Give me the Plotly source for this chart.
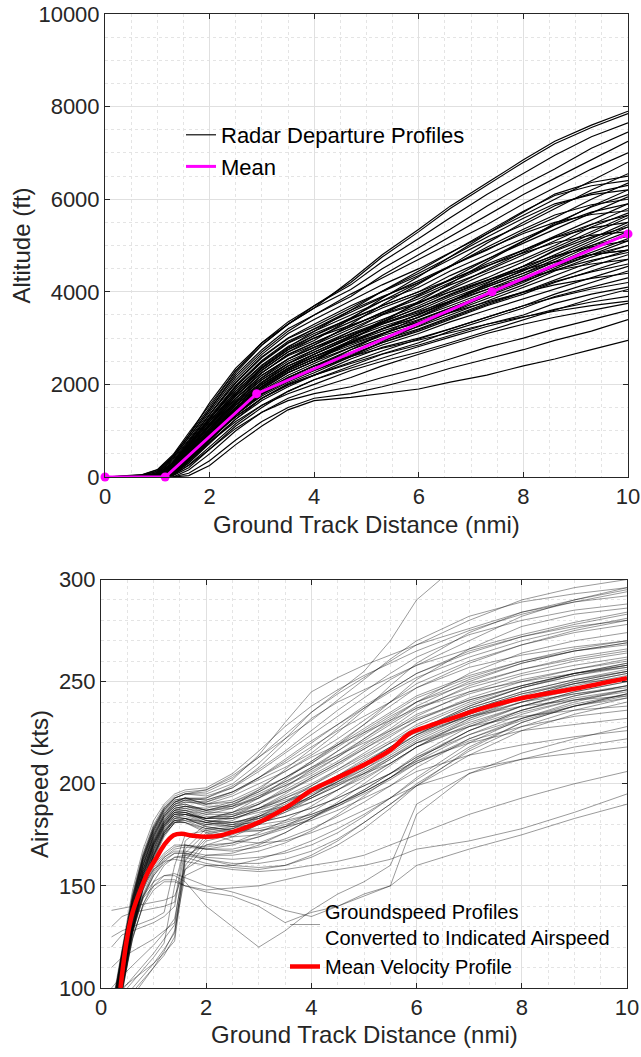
import plotly.graph_objects as go

W, H = 641, 1057
FONT = "Liberation Sans, Arial, Helvetica, sans-serif"
AXC = "#262626"

# ---------------- Top panel: radar departure altitude profiles ----------------
alt_x = [0, 0.7, 1.0, 1.3, 1.6, 2.0, 2.5, 3.0, 3.5, 4.0, 4.7, 5.3, 6.0, 6.6, 7.3, 8.0, 8.6, 9.3, 10.0]
alt_profiles = [
    [0, 0, 0, 0, 30, 250, 700, 1100, 1450, 1650, 1720, 1800, 1900, 2050, 2200, 2400, 2550, 2750, 2950],
    [0, 0, 0, 0, 80, 350, 800, 1200, 1500, 1700, 1800, 1950, 2150, 2350, 2550, 2750, 2950, 3150, 3400],
    [0, 0, 0, 50, 250, 600, 1050, 1400, 1650, 1800, 1950, 2150, 2350, 2550, 2800, 3000, 3200, 3400, 3600],
    [0, 0, 0, 0, 150, 500, 1000, 1400, 1700, 1900, 2150, 2400, 2650, 2850, 3100, 3300, 3450, 3600, 3750],
    [0, 0, 0, 80, 350, 750, 1200, 1550, 1800, 2000, 2300, 2500, 2700, 2900, 3150, 3400, 3600, 3850, 4050],
    [0, 0, 0, 30, 200, 600, 1100, 1500, 1850, 2100, 2400, 2650, 2850, 3050, 3300, 3500, 3750, 3950, 4100],
    [0, 0, 20, 150, 450, 850, 1300, 1700, 2000, 2200, 2450, 2650, 2900, 3150, 3400, 3650, 3900, 4100, 4300],
    [0, 0, 0, 60, 300, 750, 1250, 1650, 1950, 2200, 2550, 2800, 3000, 3200, 3450, 3700, 3950, 4200, 4450],
    [0, 0, 0, 100, 400, 850, 1350, 1750, 2050, 2300, 2600, 2850, 3100, 3350, 3600, 3850, 4050, 4300, 4550],
    [0, 0, 10, 120, 450, 900, 1400, 1800, 2100, 2350, 2650, 2900, 3150, 3400, 3700, 3950, 4200, 4450, 4700],
    [0, 0, 0, 80, 380, 850, 1400, 1850, 2150, 2400, 2700, 2950, 3200, 3450, 3750, 4000, 4250, 4550, 4800],
    [0, 0, 0, 50, 350, 800, 1350, 1800, 2150, 2400, 2750, 3000, 3250, 3500, 3800, 4100, 4350, 4650, 4900],
    [0, 0, 30, 180, 500, 950, 1450, 1900, 2250, 2500, 2800, 3050, 3300, 3550, 3850, 4150, 4450, 4750, 5000],
    [0, 0, 0, 100, 450, 950, 1500, 1950, 2300, 2550, 2850, 3100, 3350, 3600, 3900, 4200, 4500, 4800, 5100],
    [0, 0, 0, 90, 420, 900, 1450, 1900, 2250, 2500, 2900, 3150, 3400, 3650, 3950, 4250, 4550, 4850, 5150],
    [0, 0, 20, 160, 520, 1000, 1550, 2000, 2350, 2600, 2950, 3200, 3450, 3700, 4000, 4300, 4600, 4950, 5250],
    [0, 0, 0, 120, 480, 980, 1500, 1950, 2300, 2550, 2900, 3200, 3450, 3750, 4050, 4350, 4650, 5000, 5300],
    [0, 0, 0, 70, 400, 900, 1500, 2000, 2350, 2650, 3000, 3250, 3500, 3800, 4100, 4400, 4700, 5050, 5400],
    [0, 0, 40, 200, 550, 1050, 1600, 2050, 2400, 2650, 3000, 3300, 3550, 3850, 4150, 4450, 4750, 5100, 5450],
    [0, 0, 0, 110, 470, 1000, 1600, 2050, 2450, 2700, 3050, 3300, 3600, 3900, 4200, 4500, 4800, 5150, 5500],
    [0, 0, 10, 150, 500, 1050, 1650, 2100, 2450, 2750, 3100, 3350, 3650, 3950, 4250, 4550, 4900, 5250, 5600],
    [0, 0, 0, 130, 500, 1050, 1700, 2150, 2550, 2800, 3150, 3400, 3700, 4000, 4300, 4650, 4950, 5300, 5650],
    [0, 0, 30, 220, 600, 1100, 1700, 2200, 2550, 2850, 3200, 3500, 3750, 4050, 4400, 4700, 5000, 5400, 5700],
    [0, 0, 0, 140, 550, 1100, 1750, 2250, 2650, 2900, 3250, 3550, 3850, 4150, 4450, 4800, 5100, 5450, 5800],
    [0, 0, 50, 250, 650, 1200, 1800, 2300, 2700, 3000, 3350, 3650, 3950, 4250, 4600, 4900, 5200, 5550, 5900],
    [0, 0, 20, 200, 600, 1150, 1800, 2350, 2750, 3050, 3400, 3700, 4000, 4350, 4700, 5050, 5350, 5700, 6050],
    [0, 0, 60, 300, 700, 1250, 1900, 2400, 2800, 3150, 3500, 3800, 4100, 4450, 4800, 5150, 5450, 5850, 6200],
    [0, 0, 40, 260, 680, 1250, 1950, 2500, 2900, 3200, 3600, 3900, 4200, 4550, 4900, 5300, 5600, 6000, 6350],
    [0, 20, 90, 350, 780, 1350, 2050, 2600, 3000, 3300, 3700, 4000, 4350, 4700, 5100, 5450, 5800, 6200, 6550],
    [0, 0, 70, 320, 750, 1350, 2100, 2650, 3100, 3400, 3800, 4150, 4500, 4850, 5250, 5650, 6000, 6400, 6800],
    [0, 30, 120, 420, 850, 1450, 2200, 2750, 3200, 3500, 3950, 4300, 4700, 5050, 5450, 5900, 6250, 6650, 7000],
    [0, 0, 80, 380, 800, 1400, 2150, 2700, 3150, 3500, 3900, 4350, 4800, 5200, 5650, 6100, 6450, 6850, 7250],
    [0, 40, 150, 450, 900, 1500, 2300, 2850, 3300, 3650, 4050, 4500, 4950, 5350, 5850, 6300, 6650, 7100, 7450],
    [0, 0, 100, 400, 850, 1450, 2250, 2850, 3300, 3700, 4150, 4650, 5150, 5600, 6100, 6550, 6950, 7350, 7650],
    [0, 50, 160, 480, 950, 1550, 2300, 2900, 3350, 3700, 4200, 4750, 5300, 5800, 6300, 6800, 7200, 7550, 7850],
    [0, 30, 130, 450, 900, 1600, 2350, 2900, 3300, 3650, 4250, 4800, 5350, 5850, 6350, 6850, 7250, 7600, 7900],
    [0, 0, 0, 40, 260, 650, 1150, 1550, 1850, 2100, 2350, 2580, 2820, 3020, 3250, 3450, 3620, 3780, 3900],
    [0, 0, 0, 90, 380, 820, 1350, 1800, 2150, 2400, 2600, 2780, 2960, 3120, 3300, 3460, 3580, 3700, 3800],
    [0, 0, 10, 120, 420, 820, 1300, 1700, 1980, 2200, 2480, 2720, 2980, 3200, 3450, 3700, 3880, 4060, 4200],
    [0, 0, 0, 100, 450, 950, 1550, 2000, 2350, 2600, 2880, 3100, 3350, 3550, 3780, 3990, 4150, 4290, 4400],
    [0, 0, 0, 60, 330, 780, 1330, 1780, 2080, 2300, 2620, 2900, 3180, 3430, 3720, 3990, 4220, 4430, 4600],
    [0, 0, 30, 200, 580, 1100, 1700, 2200, 2550, 2800, 3080, 3320, 3580, 3800, 4050, 4290, 4460, 4600, 4700],
    [0, 0, 0, 80, 380, 870, 1430, 1870, 2200, 2450, 2800, 3080, 3380, 3640, 3950, 4230, 4470, 4680, 4850],
    [0, 0, 40, 240, 640, 1200, 1850, 2350, 2750, 3000, 3280, 3520, 3780, 4000, 4250, 4480, 4650, 4800, 4900],
    [0, 0, 0, 50, 300, 720, 1250, 1700, 2020, 2250, 2600, 2920, 3260, 3560, 3920, 4260, 4540, 4800, 5000],
    [0, 0, 20, 160, 520, 1020, 1620, 2100, 2450, 2700, 3050, 3340, 3660, 3930, 4250, 4550, 4780, 4970, 5100],
    [0, 0, 0, 110, 450, 940, 1500, 1950, 2300, 2550, 2900, 3200, 3520, 3800, 4140, 4460, 4750, 5000, 5200],
    [0, 0, 50, 260, 680, 1250, 1900, 2420, 2820, 3100, 3420, 3700, 4000, 4260, 4560, 4840, 5060, 5220, 5300],
    [0, 0, 0, 70, 350, 800, 1350, 1800, 2120, 2350, 2750, 3090, 3460, 3780, 4180, 4550, 4880, 5180, 5400],
    [0, 0, 20, 190, 580, 1120, 1750, 2250, 2640, 2900, 3250, 3560, 3900, 4200, 4560, 4900, 5170, 5380, 5500],
    [0, 0, 10, 140, 490, 990, 1570, 2030, 2390, 2650, 3030, 3380, 3760, 4080, 4480, 4860, 5180, 5460, 5650],
    [0, 0, 60, 300, 720, 1300, 1980, 2520, 2930, 3200, 3560, 3880, 4240, 4550, 4920, 5260, 5500, 5670, 5750],
    [0, 0, 20, 170, 540, 1050, 1650, 2140, 2500, 2750, 3150, 3510, 3920, 4270, 4700, 5100, 5440, 5720, 5900],
    [0, 0, 40, 240, 650, 1200, 1850, 2370, 2780, 3050, 3440, 3800, 4190, 4540, 4960, 5350, 5660, 5880, 6000],
    [0, 0, 0, 90, 400, 900, 1470, 1930, 2260, 2500, 2950, 3350, 3790, 4180, 4650, 5090, 5480, 5830, 6100],
    [0, 0, 60, 320, 750, 1350, 2030, 2580, 2990, 3250, 3650, 4010, 4400, 4750, 5180, 5590, 5900, 6100, 6200],
    [0, 0, 30, 210, 600, 1130, 1760, 2260, 2620, 2850, 3300, 3720, 4170, 4560, 5050, 5500, 5860, 6130, 6300],
    [0, 0, 50, 280, 700, 1280, 1950, 2480, 2890, 3150, 3600, 4010, 4450, 4840, 5300, 5740, 6080, 6290, 6400],
    [0, 0, 30, 220, 620, 1160, 1800, 2310, 2700, 2950, 3420, 3860, 4330, 4750, 5250, 5720, 6110, 6360, 6500],
    [0, 0, 0, 100, 420, 920, 1500, 1960, 2330, 2600, 2920, 3200, 3520, 3790, 4110, 4400, 4640, 4800, 4900],
]
mean_alt_x = [0, 1.15, 2.9, 7.4, 10.0]
mean_alt_y = [0, 0, 1800, 4000, 5250]

# ---------------- Bottom panel: airspeed profiles ----------------
spd_x = [0.2, 0.4, 0.6, 0.8, 1.0, 1.2, 1.4, 1.6, 2.0, 2.5, 3.0, 3.5, 4.0, 4.5, 5.0, 5.5, 6.0, 7.0, 8.0, 9.0, 10.0]
spd_profiles = [
    [80, 110, 138, 158, 172, 182, 188, 189, 187, 190, 196, 203, 210, 218, 226, 234, 242, 252, 260, 266, 270],
    [70, 100, 128, 150, 165, 176, 183, 185, 183, 185, 190, 197, 204, 211, 219, 227, 236, 248, 256, 262, 266],
    [85, 115, 142, 162, 176, 185, 191, 193, 190, 192, 198, 206, 214, 222, 231, 240, 249, 260, 268, 274, 278],
    [72, 102, 130, 152, 168, 179, 186, 187, 184, 184, 188, 194, 200, 207, 214, 221, 229, 240, 248, 254, 259],
    [78, 108, 135, 155, 170, 180, 186, 186, 182, 181, 184, 189, 195, 201, 207, 214, 222, 234, 243, 250, 255],
    [82, 112, 140, 160, 174, 184, 190, 192, 191, 195, 203, 212, 221, 229, 237, 245, 252, 262, 270, 276, 281],
    [68, 98, 126, 148, 163, 174, 181, 183, 180, 179, 182, 186, 191, 197, 203, 210, 218, 229, 238, 245, 250],
    [76, 106, 133, 154, 169, 179, 185, 186, 183, 183, 187, 193, 199, 206, 213, 220, 225, 233, 240, 246, 251],
    [88, 118, 145, 165, 179, 188, 193, 195, 194, 198, 206, 215, 224, 233, 242, 251, 258, 266, 273, 279, 284],
    [74, 104, 131, 152, 167, 177, 183, 183, 179, 177, 178, 181, 185, 190, 196, 203, 212, 226, 236, 243, 248],
    [80, 110, 137, 157, 171, 180, 185, 185, 182, 181, 183, 187, 193, 199, 205, 212, 220, 230, 238, 244, 248],
    [71, 101, 129, 150, 165, 176, 182, 183, 181, 184, 190, 198, 207, 216, 225, 233, 240, 249, 256, 261, 265],
    [79, 109, 136, 157, 171, 181, 187, 188, 185, 185, 188, 192, 196, 200, 205, 210, 218, 228, 236, 242, 246],
    [84, 114, 141, 161, 175, 184, 189, 190, 187, 188, 193, 200, 208, 216, 224, 232, 240, 251, 259, 265, 269],
    [69, 99, 127, 149, 164, 175, 181, 181, 177, 174, 175, 179, 184, 190, 197, 205, 213, 226, 235, 241, 245],
    [77, 107, 134, 155, 170, 180, 186, 187, 185, 188, 194, 201, 208, 214, 220, 226, 232, 241, 248, 254, 258],
    [86, 116, 143, 163, 177, 186, 191, 192, 189, 189, 193, 199, 206, 213, 221, 229, 237, 247, 254, 260, 264],
    [73, 103, 130, 151, 166, 177, 183, 184, 181, 180, 183, 188, 194, 201, 209, 217, 226, 238, 247, 254, 259],
    [81, 111, 138, 158, 172, 181, 186, 186, 182, 180, 181, 184, 188, 193, 199, 205, 213, 224, 232, 238, 242],
    [75, 105, 132, 153, 168, 178, 184, 185, 183, 186, 193, 202, 211, 220, 229, 238, 247, 259, 268, 275, 280],
    [83, 113, 140, 160, 174, 183, 188, 189, 186, 186, 190, 196, 203, 210, 218, 226, 234, 244, 251, 256, 260],
    [70, 100, 128, 150, 165, 176, 182, 182, 178, 176, 177, 180, 184, 189, 195, 202, 210, 222, 231, 238, 243],
    [78, 108, 135, 156, 171, 181, 187, 188, 186, 189, 197, 207, 217, 227, 237, 246, 254, 264, 272, 278, 283],
    [87, 117, 144, 164, 178, 187, 192, 193, 190, 191, 196, 203, 211, 219, 227, 235, 243, 253, 260, 265, 269],
    [74, 104, 131, 152, 167, 177, 182, 181, 176, 172, 171, 172, 176, 181, 187, 193, 199, 207, 212, 215, 218],
    [79, 109, 136, 156, 170, 179, 184, 183, 179, 177, 177, 179, 182, 187, 193, 199, 206, 214, 219, 223, 226],
    [72, 102, 129, 150, 165, 175, 181, 181, 178, 178, 181, 184, 188, 193, 199, 205, 211, 220, 226, 229, 232],
    [82, 112, 139, 159, 173, 182, 187, 187, 183, 183, 186, 189, 193, 199, 206, 213, 220, 228, 233, 236, 238],
    [76, 106, 133, 154, 169, 179, 185, 186, 183, 184, 188, 193, 198, 204, 210, 217, 224, 233, 238, 241, 243],
    [84, 114, 141, 161, 175, 184, 189, 190, 187, 189, 194, 199, 205, 213, 222, 231, 240, 254, 264, 270, 274],
    [78, 108, 135, 156, 171, 181, 187, 189, 188, 191, 197, 203, 210, 219, 229, 240, 251, 266, 277, 283, 286],
    [86, 116, 143, 163, 177, 186, 191, 193, 192, 196, 202, 208, 215, 225, 236, 248, 259, 274, 284, 289, 292],
    [80, 110, 137, 158, 173, 183, 189, 191, 191, 196, 203, 211, 220, 229, 238, 246, 254, 265, 272, 277, 280],
    [83, 113, 140, 160, 174, 184, 190, 192, 193, 199, 207, 216, 226, 236, 245, 254, 262, 273, 280, 285, 288],
    [88, 118, 145, 165, 179, 188, 193, 195, 197, 204, 213, 222, 231, 241, 251, 261, 270, 282, 289, 293, 296],
    [75, 105, 132, 153, 168, 178, 184, 185, 183, 186, 191, 196, 202, 209, 217, 225, 233, 245, 253, 258, 262],
    [81, 111, 138, 158, 172, 182, 188, 189, 187, 190, 195, 201, 207, 214, 222, 230, 238, 250, 259, 265, 268],
    [73, 103, 130, 151, 166, 176, 182, 183, 181, 183, 187, 191, 196, 202, 209, 216, 224, 236, 244, 249, 252],
    [85, 115, 142, 162, 176, 185, 190, 191, 190, 194, 200, 206, 213, 219, 225, 231, 237, 245, 250, 254, 257],
    [77, 107, 134, 155, 170, 180, 185, 185, 181, 179, 180, 182, 185, 190, 196, 203, 210, 221, 228, 233, 236],
    [87, 117, 144, 164, 178, 187, 192, 193, 192, 196, 203, 210, 218, 226, 233, 240, 247, 257, 263, 267, 270],
    [71, 101, 128, 149, 164, 175, 181, 182, 180, 181, 184, 187, 191, 197, 204, 212, 220, 232, 240, 244, 247],
    [74, 104, 128, 145, 156, 163, 166, 166, 164, 163, 164, 166, 170, 176, 184, 193, 203, 220, 232, 240, 246],
    [78, 108, 132, 148, 158, 164, 167, 167, 165, 165, 167, 171, 177, 185, 194, 203, 212, 226, 236, 243, 248],
    [70, 100, 124, 141, 152, 160, 164, 165, 163, 161, 161, 163, 167, 173, 181, 190, 200, 216, 228, 236, 242],
    [82, 112, 135, 150, 160, 166, 170, 170, 168, 168, 171, 176, 183, 191, 200, 209, 218, 232, 242, 249, 254],
    [76, 106, 130, 146, 157, 164, 168, 169, 168, 170, 174, 179, 186, 194, 202, 210, 218, 231, 240, 247, 252],
    [72, 102, 127, 144, 155, 162, 166, 166, 163, 160, 159, 160, 164, 170, 178, 188, 199, 217, 230, 238, 244],
    [80, 110, 134, 149, 159, 165, 169, 170, 169, 171, 176, 182, 189, 197, 205, 213, 221, 233, 242, 248, 253],
    [75, 105, 129, 145, 155, 161, 164, 164, 161, 159, 158, 160, 165, 172, 181, 190, 199, 214, 226, 234, 240],
    [95, 100, 104, 108, 112, 117, 123, 160, 172, 175, 180, 186, 193, 200, 207, 215, 223, 234, 242, 249, 254],
    [120, 126, 128, 130, 132, 135, 140, 168, 178, 180, 185, 191, 197, 204, 211, 218, 226, 237, 245, 251, 256],
    [85, 92, 98, 104, 110, 116, 125, 165, 170, 171, 174, 178, 183, 189, 196, 203, 211, 224, 234, 241, 246],
    [130, 135, 137, 138, 139, 140, 142, 172, 180, 182, 188, 195, 203, 210, 217, 224, 231, 241, 248, 254, 258],
    [90, 97, 103, 109, 115, 122, 150, 170, 168, 167, 169, 173, 178, 184, 191, 199, 208, 222, 232, 239, 244],
    [100, 106, 111, 116, 121, 127, 134, 162, 175, 178, 184, 191, 199, 207, 215, 223, 231, 242, 250, 256, 261],
    [138, 139, 140, 141, 142, 143, 145, 158, 165, 166, 170, 176, 183, 190, 197, 205, 214, 228, 238, 245, 250],
    [80, 88, 96, 103, 110, 118, 128, 155, 160, 160, 163, 167, 172, 178, 185, 193, 202, 218, 230, 238, 244],
    [110, 115, 118, 121, 124, 128, 132, 166, 176, 178, 183, 189, 196, 203, 210, 218, 226, 237, 245, 251, 255],
    [92, 99, 105, 111, 117, 124, 131, 158, 170, 174, 180, 187, 194, 201, 208, 216, 224, 236, 244, 250, 255],
    [125, 128, 130, 132, 134, 137, 160, 175, 177, 179, 184, 190, 197, 204, 212, 220, 228, 239, 247, 253, 257],
    [88, 94, 100, 106, 112, 119, 127, 163, 173, 176, 181, 187, 194, 202, 210, 218, 226, 238, 247, 253, 258],
    [70, 100, 125, 140, 148, 152, 152, 150, 147, 145, 140, 132, 137, 140, 145, 150, 185, 205, 215, 222, 228],
    [75, 105, 130, 145, 152, 155, 155, 152, 140, 130, 120, 128, 138, 146, 152, 160, 190, 205, 212, 218, 222],
    [72, 102, 128, 144, 150, 153, 153, 150, 148, 149, 150, 153, 156, 158, 160, 163, 168, 172, 178, 186, 195],
    [78, 108, 134, 150, 158, 162, 163, 162, 160, 158, 157, 158, 160, 162, 165, 170, 175, 185, 193, 200, 206],
    [68, 98, 124, 141, 150, 155, 156, 154, 150, 147, 143, 138, 135, 140, 146, 150, 160, 168, 175, 183, 190],
    [85, 115, 142, 163, 177, 187, 193, 195, 195, 200, 210, 222, 235, 245, 255, 270, 290, 312, 320, 325, 330],
    [88, 118, 146, 166, 180, 189, 194, 196, 197, 203, 213, 224, 235, 244, 252, 260, 268, 280, 290, 296, 300],
    [82, 112, 140, 160, 175, 185, 191, 193, 193, 198, 208, 220, 232, 240, 246, 252, 258, 270, 282, 290, 296],
    [90, 120, 148, 168, 182, 190, 195, 197, 198, 205, 216, 228, 238, 246, 253, 259, 265, 275, 283, 289, 294],
    [86, 116, 143, 164, 178, 188, 193, 195, 196, 202, 214, 230, 245, 252, 258, 263, 268, 276, 284, 290, 295],
]
mean_spd_x = [0.37, 0.49, 0.6, 0.75, 0.9, 1.06, 1.2, 1.38, 1.53, 1.75, 2.0, 2.25, 2.51, 2.85, 3.15,
              3.59, 4.0, 4.5, 5.04, 5.5, 5.86, 6.2, 6.56, 7.2, 7.95, 9.0, 10.0]
mean_spd_y = [100, 123.5, 137, 148, 157, 164, 170, 174.8, 175.5, 174.5, 174, 174.5, 176.4, 179.5, 183,
              189.5, 196.8, 203, 209.8, 216.5, 224.5, 228, 231, 236.5, 241.6, 246.5, 251.7]

fig = go.Figure()

for i, prof in enumerate(alt_profiles):
    fig.add_trace(go.Scatter(
        x=alt_x, y=prof, mode="lines", xaxis="x", yaxis="y",
        line=dict(color="black", width=1.15),
        name="Radar Departure Profiles", legend="legend", legendgroup="radar",
        showlegend=(i == 0), hoverinfo="skip"))
fig.add_trace(go.Scatter(
    x=mean_alt_x, y=mean_alt_y, mode="lines", xaxis="x", yaxis="y",
    line=dict(color="#FF00FF", width=3), name="Mean", legend="legend"))
fig.add_trace(go.Scatter(
    x=mean_alt_x, y=mean_alt_y, mode="markers", xaxis="x", yaxis="y",
    marker=dict(color="#FF00FF", size=9, symbol="circle"), showlegend=False,
    cliponaxis=False))

for i, prof in enumerate(spd_profiles):
    fig.add_trace(go.Scatter(
        x=spd_x, y=prof, mode="lines", xaxis="x2", yaxis="y2",
        line=dict(color="rgba(0,0,0,0.42)", width=0.95),
        name="Groundspeed Profiles<br>Converted to Indicated Airspeed",
        legend="legend2", legendgroup="gs", showlegend=(i == 0), hoverinfo="skip"))
fig.add_trace(go.Scatter(
    x=mean_spd_x, y=mean_spd_y, mode="lines", xaxis="x2", yaxis="y2",
    line=dict(color="#FF0000", width=4.5, shape="spline"),
    name="Mean Velocity Profile", legend="legend2"))


def axis(domain, rng, dtick, minor_dtick, anchor):
    return dict(
        domain=domain, range=rng, dtick=dtick, tick0=rng[0], anchor=anchor,
        tickformat="d",
        showgrid=True, gridcolor="#e0e0e0", gridwidth=1,
        minor=dict(dtick=minor_dtick, tick0=rng[0], showgrid=True, gridcolor="#e4e4e4",
                   griddash="dot", gridwidth=1, ticks=""),
        showline=True, linecolor=AXC, linewidth=1, mirror="ticks",
        ticks="inside", ticklen=5, tickcolor=AXC, tickwidth=1,
        tickfont=dict(family=FONT, size=22, color=AXC),
        zeroline=False, automargin=False, fixedrange=True)


def px_x(p):
    return p / W


def px_y(p):
    return 1 - p / H


top_x = [px_x(105), px_x(628)]
top_y = [px_y(477), px_y(14)]
bot_x = [px_x(101), px_x(627)]
bot_y = [px_y(988), px_y(579.5)]

title_font = dict(family=FONT, size=24, color=AXC)

fig.update_layout(
    width=W, height=H,
    margin=dict(l=0, r=0, t=0, b=0),
    paper_bgcolor="white", plot_bgcolor="white",
    xaxis=axis(top_x, [0, 10], 2, 0.5, "y"),
    yaxis=axis(top_y, [0, 10000], 2000, 500, "x"),
    xaxis2=axis(bot_x, [0, 10], 2, 0.5, "y2"),
    yaxis2=axis(bot_y, [100, 300], 50, 10, "x2"),
    legend=dict(x=px_x(181), y=px_y(114), xanchor="left", yanchor="top",
                bgcolor="rgba(0,0,0,0)", borderwidth=0,
                font=dict(family=FONT, size=22, color="black"), tracegroupgap=0),
    legend2=dict(x=px_x(285), y=px_y(892), xanchor="left", yanchor="top",
                 bgcolor="rgba(0,0,0,0)", borderwidth=0,
                 font=dict(family=FONT, size=20, color="black"), tracegroupgap=0),
    annotations=[
        dict(text="Ground Track Distance (nmi)", x=(top_x[0] + top_x[1]) / 2, y=px_y(524),
             xref="paper", yref="paper", showarrow=False, font=title_font,
             xanchor="center", yanchor="middle"),
        dict(text="Altitude (ft)", x=px_x(21), y=px_y(245.5), xref="paper", yref="paper",
             showarrow=False, font=title_font, textangle=-90,
             xanchor="center", yanchor="middle"),
        dict(text="Ground Track Distance (nmi)", x=(bot_x[0] + bot_x[1]) / 2, y=px_y(1034),
             xref="paper", yref="paper", showarrow=False, font=title_font,
             xanchor="center", yanchor="middle"),
        dict(text="Airspeed (kts)", x=px_x(39), y=px_y(784), xref="paper", yref="paper",
             showarrow=False, font=title_font, textangle=-90,
             xanchor="center", yanchor="middle"),
    ],
)

fig.write_html("out.html")
